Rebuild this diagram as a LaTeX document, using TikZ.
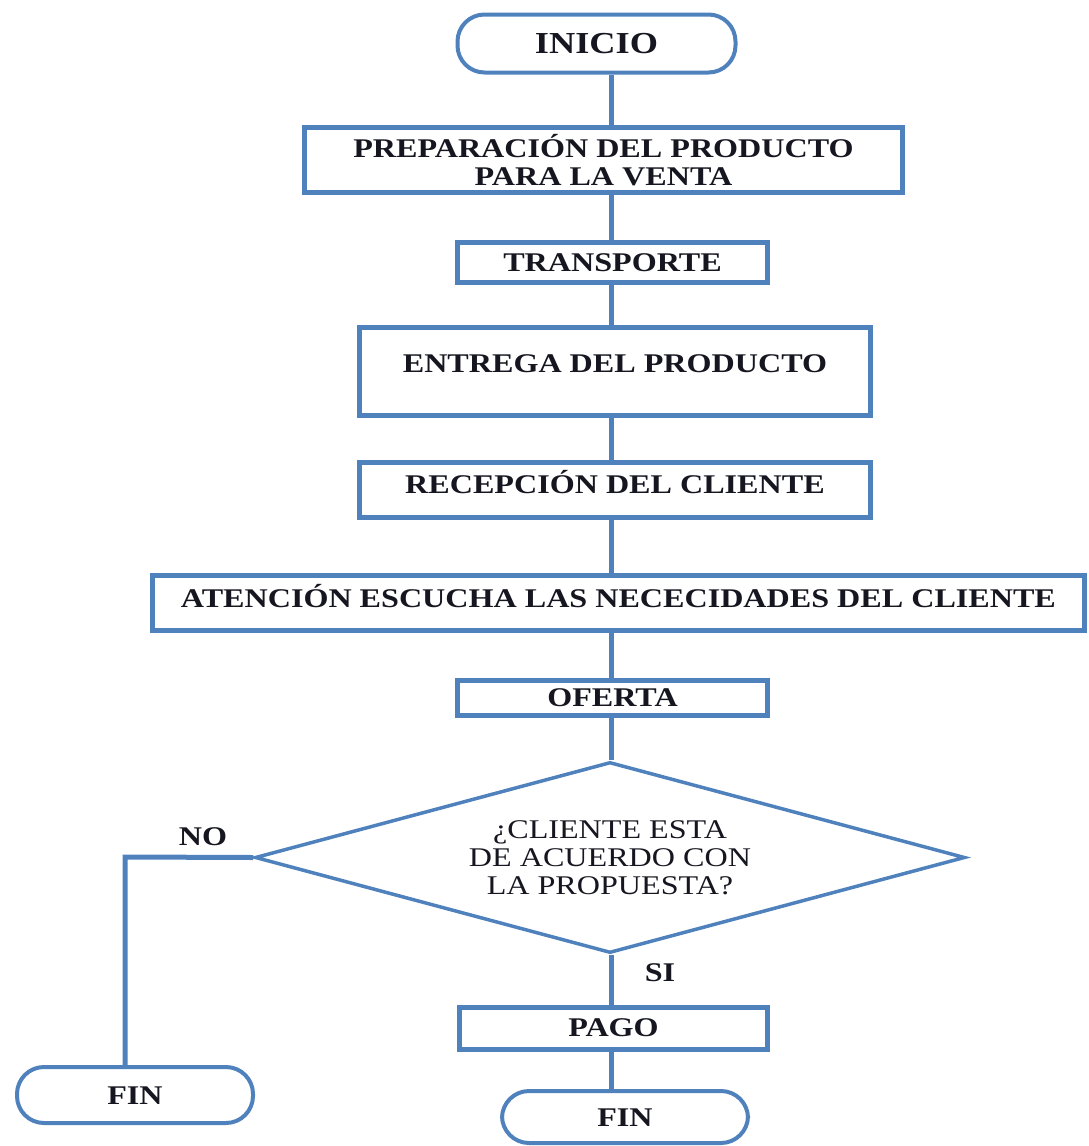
\documentclass[tikz,border=0pt]{standalone}
\usepackage{fontspec}
\setmainfont{Liberation Serif}[FakeStretch=1.19]
\usetikzlibrary{shapes.geometric}

\definecolor{flowblue}{RGB}{79,129,189}
\definecolor{inkdark}{RGB}{22,22,32}

\begin{document}
\begin{tikzpicture}[x=1pt,y=-1pt,
    every node/.style={text=inkdark, font=\fontsize{27}{28}\selectfont\bfseries},
    term/.style={draw=flowblue, line width=4pt, rounded corners=27pt, inner sep=0pt,
                 text height=18pt, text depth=0pt},
    proc/.style={draw=flowblue, line width=5pt, inner sep=0pt},
    caps/.style={text height=18pt, text depth=#1},
    caps/.default=0pt,
    decision/.style={draw=flowblue, line width=3.5pt, diamond, aspect=3.72, inner sep=0pt,
                     align=center, font=\fontsize{27}{28}\selectfont},
    link/.style={draw=flowblue, line width=5pt}]
  \useasboundingbox (0,0) rectangle (1089,1146);

  % Main column
  \node[term, minimum width=278pt, minimum height=58pt, text height=20.5pt,
        font=\fontsize{30.5}{32}\selectfont\bfseries] (inicio) at (596.5,43.5) {INICIO};
  \node[proc, align=center, minimum width=598pt, minimum height=65pt] (prep) at (603.5,160)
    {PREPARACIÓN DEL PRODUCTO\\PARA LA VENTA};
  \node[proc, caps, minimum width=310pt, minimum height=40pt] (transporte) at (612.5,262.5) {TRANSPORTE};
  \node[proc, caps=16pt, minimum width=511pt, minimum height=88pt] (entrega) at (615,371.5) {ENTREGA DEL PRODUCTO};
  \node[proc, caps=12pt, minimum width=511pt, minimum height=55pt] (recepcion) at (615,490) {RECEPCIÓN DEL CLIENTE};
  \node[proc, caps=10pt, minimum width=932pt, minimum height=55pt] (atencion) at (618.5,603)
    {ATENCIÓN ESCUCHA LAS NECECIDADES DEL CLIENTE};
  \node[proc, caps=2pt, minimum width=310pt, minimum height=35pt] (oferta) at (612.5,698) {OFERTA};

  % Decision
  \node[decision, minimum width=710pt, minimum height=191pt] (acuerdo) at (610,857.5)
    {¿CLIENTE ESTA\\DE ACUERDO CON\\LA PROPUESTA?};
  \node (no) at (203,837) {NO};
  \node (si) at (660,973) {SI};

  % Endings
  \node[proc, caps=2pt, minimum width=308pt, minimum height=42pt] (pago) at (613.5,1028.5) {PAGO};
  \node[term, minimum width=236pt, minimum height=56pt] (finno) at (135,1095) {FIN};
  \node[term, minimum width=246pt, minimum height=52pt] (finsi) at (625,1117) {FIN};

  \coordinate (trunk) at (611,0);
  \coordinate (nocorner) at (125,857);

  \draw[link] (inicio.south -| trunk) -- (prep.north -| trunk);
  \draw[link] (prep.south -| trunk) -- (transporte.north -| trunk);
  \draw[link] (transporte.south -| trunk) -- (entrega.north -| trunk);
  \draw[link] (entrega.south -| trunk) -- (recepcion.north -| trunk);
  \draw[link] (recepcion.south -| trunk) -- (atencion.north -| trunk);
  \draw[link] (atencion.south -| trunk) -- (oferta.north -| trunk);
  \draw[link] (oferta.south -| trunk) -- (acuerdo.north -| trunk);
  \draw[link] (acuerdo.south -| trunk) -- (pago.north -| trunk);
  \draw[link] (pago.south -| trunk) -- (finsi.north -| trunk);
  \draw[link] (acuerdo.west) -- (nocorner) -- (nocorner |- finno.north);
\end{tikzpicture}
\end{document}
